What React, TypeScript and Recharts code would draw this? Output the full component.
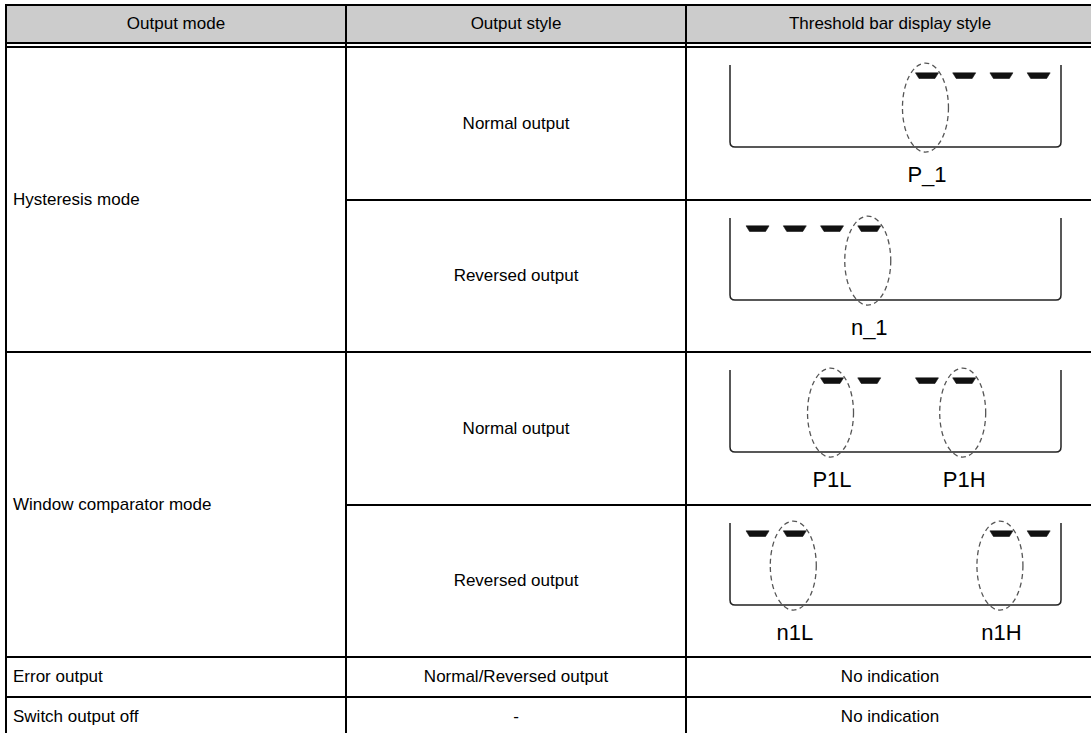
import { ReferenceArea, Scatter, ScatterChart, XAxis, YAxis } from "recharts";

const HEADERS = ["Output mode", "Output style", "Threshold bar display style"];
const MODES = ["Hysteresis mode", "Window comparator mode", "Error output", "Switch output off"];
const STYLES = [
  "Normal output",
  "Reversed output",
  "Normal output",
  "Reversed output",
  "Normal/Reversed output",
  "-",
];
const NO_INDICATION = "No indication";

// segment centres on the threshold bar, in segment units (two groups of four)
const SEGMENT_X = [0, 1, 2, 3, 4.55, 5.55, 6.55, 7.55];
const BAR_RANGE: [number, number] = [-0.74, 8.15];
const BAR_LEVEL = 8.7;
const RING_LEVEL = 4.8;

// one entry per display row: lit segments, threshold segments, threshold labels
const LIT_SEGMENTS = [
  [4, 5, 6, 7],
  [0, 1, 2, 3],
  [2, 3, 4, 5],
  [0, 1, 6, 7],
];
const THRESHOLD_SEGMENTS = [[4], [3], [2, 5], [1, 6]];
const THRESHOLD_LABELS = [["P_1"], ["n_1"], ["P1L", "P1H"], ["n1L", "n1H"]];

const FONT = '"Liberation Sans", Arial, Helvetica, sans-serif';
const FONT_SIZE = 17;
const LABEL_SIZE = 22;

const W = 1091;
const H = 733;
const LEFT = 5;
const COL1 = 345;
const COL2 = 685;
// top edge of each row (just under the rule above it), last value is the bottom
const ROW_TOPS = [48, 201, 353, 506, 658, 698, 738];

function Segment(props: any) {
  const { cx, cy } = props;
  const d = `M${cx - 11.5},${cy - 2.8} L${cx + 11.5},${cy - 2.8} L${cx + 8},${cy + 2.8} L${cx - 8},${cy + 2.8} Z`;
  return <path d={d} fill="#111" stroke="#111" strokeWidth={0.6} strokeLinejoin="round" />;
}

function Ring(props: any) {
  const { cx, cy } = props;
  return (
    <ellipse
      cx={cx - 1.5}
      cy={cy}
      rx={23}
      ry={44.5}
      fill="none"
      stroke="#555"
      strokeWidth={1.3}
      strokeDasharray="5 3.5"
    />
  );
}

function Bracket(props: any) {
  const { x, y, width, height } = props;
  const r = 5;
  const b = y + height;
  const d = `M${x},${y} L${x},${b - r} Q${x},${b} ${x + r},${b} L${x + width - r},${b} Q${x + width},${b} ${x + width},${b - r} L${x + width},${y}`;
  return <path d={d} fill="none" stroke="#222" strokeWidth={1.5} />;
}

function ThresholdBar({ row }: { row: number }) {
  const bars = LIT_SEGMENTS[row].map((s) => ({ x: SEGMENT_X[s], y: BAR_LEVEL }));
  const rings = THRESHOLD_SEGMENTS[row].map((s) => ({ x: SEGMENT_X[s], y: RING_LEVEL }));
  const ticks = THRESHOLD_SEGMENTS[row].map((s) => SEGMENT_X[s]);
  const labelFor = (v: number) => {
    const i = ticks.indexOf(v);
    return i >= 0 ? THRESHOLD_LABELS[row][i] : "";
  };
  return (
    <ScatterChart width={405} height={152} margin={{ top: 18, right: 30, bottom: 0, left: 44 }}>
      <XAxis
        type="number"
        dataKey="x"
        domain={BAR_RANGE}
        ticks={ticks}
        tickFormatter={labelFor}
        axisLine={false}
        tickLine={false}
        tickSize={6}
        tickMargin={13}
        height={52}
        interval={0}
        tick={{ fill: "#000", fontSize: LABEL_SIZE, fontFamily: FONT }}
      />
      <YAxis type="number" dataKey="y" domain={[0, 10]} hide />
      <ReferenceArea x1={BAR_RANGE[0]} x2={BAR_RANGE[1]} y1={0} y2={10} shape={<Bracket />} />
      <Scatter data={rings} shape={<Ring />} isAnimationActive={false} />
      <Scatter data={bars} shape={<Segment />} isAnimationActive={false} />
    </ScatterChart>
  );
}

function Cell({
  x,
  y,
  w,
  h,
  text,
  align = "center",
  bg,
}: {
  x: number;
  y: number;
  w: number;
  h: number;
  text?: string;
  align?: "center" | "left";
  bg?: string;
}) {
  return (
    <div
      style={{
        position: "absolute",
        left: x,
        top: y,
        width: w,
        height: h,
        display: "flex",
        alignItems: "center",
        justifyContent: align === "left" ? "flex-start" : "center",
        paddingLeft: align === "left" ? 6 : 0,
        boxSizing: "border-box",
        background: bg,
        fontSize: FONT_SIZE,
        color: "#000",
        whiteSpace: "nowrap",
      }}
    >
      {text}
    </div>
  );
}

function Rule({ x, y, w, h }: { x: number; y: number; w: number; h: number }) {
  return <div style={{ position: "absolute", left: x, top: y, width: w, height: h, background: "#000" }} />;
}

export default function App() {
  const rowH = (i: number) => ROW_TOPS[i + 1] - ROW_TOPS[i] - 2;
  return (
    <div
      style={{
        position: "fixed",
        left: 0,
        top: 0,
        width: W,
        height: H,
        overflow: "hidden",
        background: "#fff",
        fontFamily: FONT,
      }}
    >
      {/* header */}
      <Cell x={LEFT + 2} y={6} w={COL1 - LEFT - 2} h={36} text={HEADERS[0]} bg="#cccccc" />
      <Cell x={COL1 + 2} y={6} w={COL2 - COL1 - 2} h={36} text={HEADERS[1]} bg="#cccccc" />
      <Cell x={COL2 + 2} y={6} w={W - COL2} h={36} text={HEADERS[2]} bg="#cccccc" />

      {/* output mode column */}
      <Cell x={LEFT + 2} y={ROW_TOPS[0]} w={COL1 - LEFT - 2} h={ROW_TOPS[2] - ROW_TOPS[0] - 2} text={MODES[0]} align="left" />
      <Cell x={LEFT + 2} y={ROW_TOPS[2]} w={COL1 - LEFT - 2} h={ROW_TOPS[4] - ROW_TOPS[2] - 2} text={MODES[1]} align="left" />
      <Cell x={LEFT + 2} y={ROW_TOPS[4]} w={COL1 - LEFT - 2} h={rowH(4)} text={MODES[2]} align="left" />
      <Cell x={LEFT + 2} y={ROW_TOPS[5]} w={COL1 - LEFT - 2} h={rowH(5)} text={MODES[3]} align="left" />

      {/* output style column */}
      {STYLES.map((s, i) => (
        <Cell key={i} x={COL1 + 2} y={ROW_TOPS[i]} w={COL2 - COL1 - 2} h={rowH(i)} text={s} />
      ))}

      {/* threshold bar column */}
      {LIT_SEGMENTS.map((_, i) => (
        <div key={i} style={{ position: "absolute", left: COL2 + 1, top: ROW_TOPS[i] - 1, width: 405, height: 152 }}>
          <ThresholdBar row={i} />
        </div>
      ))}
      <Cell x={COL2 + 2} y={ROW_TOPS[4]} w={W - COL2} h={rowH(4)} text={NO_INDICATION} />
      <Cell x={COL2 + 2} y={ROW_TOPS[5]} w={W - COL2} h={rowH(5)} text={NO_INDICATION} />

      {/* rules */}
      <Rule x={LEFT} y={4} w={W} h={2} />
      <Rule x={LEFT} y={42} w={W} h={2} />
      <Rule x={LEFT} y={46} w={W} h={2} />
      {ROW_TOPS.slice(1).map((t, i) => {
        const partial = i === 0 || i === 2;
        return <Rule key={i} x={partial ? COL1 : LEFT} y={t - 2} w={W} h={2} />;
      })}
      <Rule x={LEFT} y={4} w={2} h={H} />
      <Rule x={COL1} y={4} w={2} h={H} />
      <Rule x={COL2} y={4} w={2} h={H} />
    </div>
  );
}
